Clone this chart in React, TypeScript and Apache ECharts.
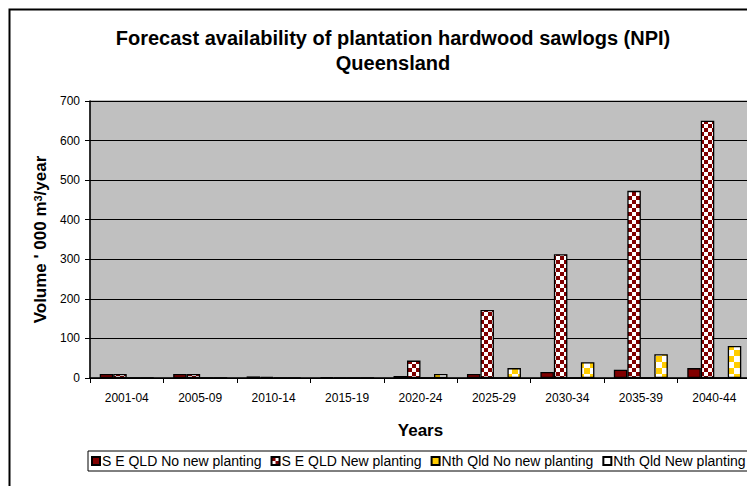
import React, { useEffect, useRef } from "react";
import * as echarts from "echarts";

const categories = ["2001-04", "2005-09", "2010-14", "2015-19", "2020-24", "2025-29", "2030-34", "2035-39", "2040-44"];
const seNoNew = [10, 10, 4, 2, 5, 10, 15, 21, 25];
const seNew = [10, 10, 3, 1, 44, 172, 313, 473, 650];
const nthNoNew = [0, 0, 0, 0, 0, 0, 0, 0, 0];
const nthNew = [0, 0, 0, 0, 10, 25, 40, 60, 81];
const yTicks = { min: 0, max: 700, interval: 100 };

function checker(size: number, c1: string, c2: string) {
  const cv = document.createElement("canvas");
  cv.width = size * 2;
  cv.height = size * 2;
  const ctx = cv.getContext("2d")!;
  ctx.fillStyle = c2;
  ctx.fillRect(0, 0, size * 2, size * 2);
  ctx.fillStyle = c1;
  ctx.fillRect(0, 0, size, size);
  ctx.fillRect(size, size, size, size);
  return { image: cv, repeat: "repeat", imageWidth: size * 2, imageHeight: size * 2 };
}

export default function App() {
  const ref = useRef<HTMLDivElement>(null);
  useEffect(() => {
    const chart = echarts.init(ref.current!, null, { renderer: "svg" });
    const font = "'Liberation Sans', Arial, sans-serif";
    const redPat = checker(4, "#800000", "#ffffff");
    const yelPat = checker(6, "#FFCC00", "#ffffff");
    const border = { borderColor: "#000", borderWidth: 1.3 };
    chart.setOption({
      animation: false,
      textStyle: { fontFamily: font, color: "#000" },
      title: {
        text: "Forecast availability of plantation hardwood sawlogs (NPI)\nQueensland",
        left: 380,
        top: 12,
        textAlign: "center",
        textStyle: { fontFamily: font, fontSize: 20, fontWeight: "bold", color: "#000", lineHeight: 25 },
      },
      graphic: [
        {
          type: "rect",
          shape: { x: 1.5, y: 1.5, width: 800, height: 600 },
          style: { fill: "none", stroke: "#000", lineWidth: 2 },
          silent: true,
        },
      ],
      legend: {
        left: 80,
        top: 443,
        padding: [3, 3],
        borderColor: "#000",
        borderWidth: 1,
        itemWidth: 8,
        itemHeight: 8,
        itemGap: 9,
        icon: "rect",
        textStyle: { fontFamily: font, fontSize: 14, color: "#000", padding: [0, 0, 0, -3] },
        data: [
          { name: "S E QLD No new planting" },
          { name: "S E QLD New planting" },
          { name: "Nth Qld No new planting" },
          { name: "Nth Qld New planting", itemStyle: { color: "#ffffff" } },
        ],
      },
      grid: {
        left: 82,
        right: 4,
        top: 93,
        bottom: 108,
        show: true,
        backgroundColor: "#C0C0C0",
        borderColor: "#808080",
        borderWidth: 1,
      },
      xAxis: {
        type: "category",
        data: categories,
        name: "Years",
        nameLocation: "middle",
        nameGap: 44,
        nameTextStyle: { fontFamily: font, fontSize: 17, fontWeight: "bold", color: "#000" },
        axisLine: { lineStyle: { color: "#000", width: 1.5 } },
        axisTick: { show: true, alignWithLabel: false, length: 5, lineStyle: { color: "#000" } },
        axisLabel: { fontFamily: font, fontSize: 12, color: "#000", margin: 14 },
      },
      yAxis: {
        type: "value",
        min: yTicks.min,
        max: yTicks.max,
        interval: yTicks.interval,
        name: "{a|Volume ' 000 m}{s|3}{a|/year}",
        nameLocation: "middle",
        nameGap: 41,
        nameTextStyle: {
          fontFamily: font,
          fontSize: 17,
          fontWeight: "bold",
          color: "#000",
          rich: {
            a: { fontFamily: font, fontSize: 17, fontWeight: "bold", color: "#000" },
            s: { fontFamily: font, fontSize: 11, fontWeight: "bold", color: "#000", verticalAlign: "top", padding: [0, 0, 6, 0] },
          },
        },
        axisLine: { show: true, lineStyle: { color: "#000", width: 1.5 } },
        axisTick: { show: true, length: 5, lineStyle: { color: "#000" } },
        axisLabel: { fontFamily: font, fontSize: 12, color: "#000", margin: 10 },
        splitLine: { show: true, lineStyle: { color: "#000", width: 1 } },
      },
      series: [
        {
          name: "S E QLD No new planting",
          type: "bar",
          data: seNoNew,
          barGap: "0%",
          barCategoryGap: "26.5%",
          itemStyle: { color: "#800000", ...border },
        },
        {
          name: "S E QLD New planting",
          type: "bar",
          data: seNew,
          itemStyle: { color: redPat, ...border },
        },
        {
          name: "Nth Qld No new planting",
          type: "bar",
          data: nthNoNew,
          itemStyle: { color: "#FFCC00", ...border },
        },
        {
          name: "Nth Qld New planting",
          type: "bar",
          data: nthNew,
          itemStyle: { color: yelPat, ...border },
        },
      ],
    });
    return () => chart.dispose();
  }, []);
  return <div ref={ref} style={{ width: 747, height: 478 }} />;
}
